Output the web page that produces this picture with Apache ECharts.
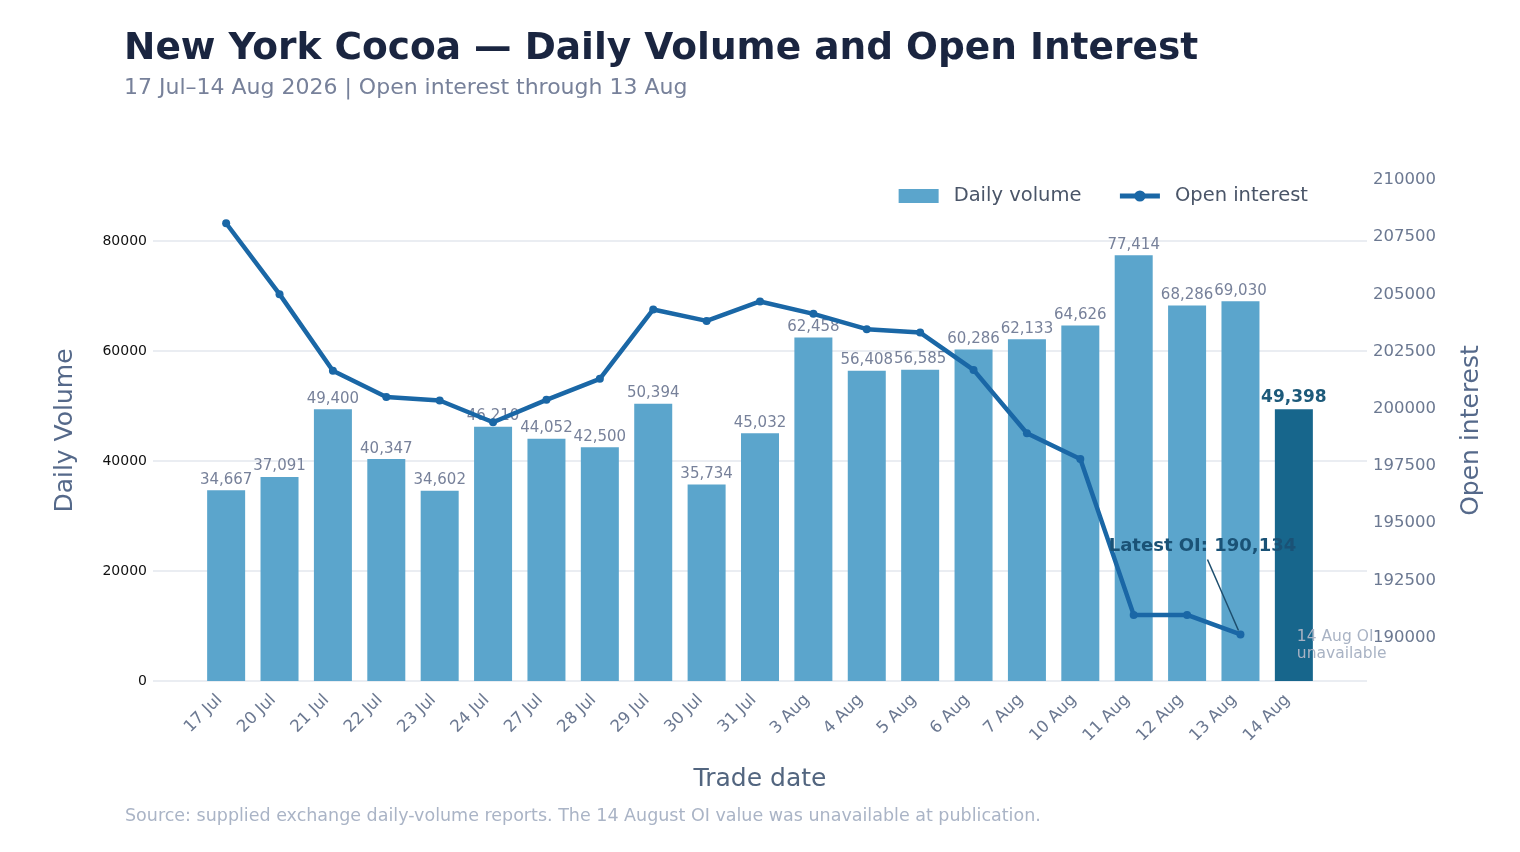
<!DOCTYPE html>
<html>
<head>
<meta charset="utf-8">
<title>New York Cocoa — Daily Volume and Open Interest</title>
<script src="https://cdn.jsdelivr.net/npm/echarts@6/dist/echarts.min.js"></script>
<style>
  html, body { margin: 0; padding: 0; background: #fff; }
  #chart { width: 1520px; height: 852px; }
</style>
</head>
<body>
<div id="chart"></div>
<script>
const tradeDates = ['17 Jul', '20 Jul', '21 Jul', '22 Jul', '23 Jul', '24 Jul', '27 Jul', '28 Jul', '29 Jul', '30 Jul', '31 Jul',
  '3 Aug', '4 Aug', '5 Aug', '6 Aug', '7 Aug', '10 Aug', '11 Aug', '12 Aug', '13 Aug', '14 Aug'];
const dailyVolume = [34667, 37091, 49400, 40347, 34602, 46210, 44052, 42500, 50394, 35734, 45032,
  62458, 56408, 56585, 60286, 62133, 64626, 77414, 68286, 69030, 49398];
// open interest, 14 Aug not published
const openInterest = [208110, 205010, 201660, 200510, 200360, 199410, 200390, 201310, 204340, 203840, 204690,
  204150, 203480, 203330, 201700, 198930, 197800, 190990, 190990, 190134, null];
const volumeTicks = [0, 20000, 40000, 60000, 80000];
const oiTicks = [190000, 192500, 195000, 197500, 200000, 202500, 205000, 207500, 210000];

const FONT = 'DejaVu Sans';
const lastIdx = tradeDates.length - 1;
const latestOiIdx = lastIdx - 1;

const chart = echarts.init(document.getElementById('chart'));

const barData = dailyVolume.map((v, i) => {
  const item = { value: [i, v] };
  if (i === lastIdx) {
    item.itemStyle = { color: '#17668c' };
    item.label = { color: '#1d5a7a', fontWeight: 'bold', fontSize: 17 };
  }
  return item;
});
const lineData = openInterest.map((v, i) => [i, v]).filter(d => d[1] !== null);

const option = {
  animation: false,
  textStyle: { fontFamily: FONT },
  title: {
    text: 'New York Cocoa — Daily Volume and Open Interest',
    subtext: '17 Jul–14 Aug 2026 | Open interest through 13 Aug',
    left: 119,
    top: 25,
    itemGap: 9,
    textStyle: { fontFamily: FONT, fontSize: 37.5, fontWeight: 'bold', color: '#1a2540' },
    subtextStyle: { fontFamily: FONT, fontSize: 22, color: '#77819a' }
  },
  legend: {
    top: 181,
    right: 207,
    itemWidth: 40,
    itemHeight: 14,
    itemGap: 36,
    lineStyle: { width: 5 },
    textStyle: { fontFamily: FONT, fontSize: 19.5, color: '#4a5568', padding: [0, 0, 0, 10] },
    data: [{ name: 'Daily volume', icon: 'rect' }, { name: 'Open interest' }]
  },
  grid: { left: 153, right: 153, top: 180, bottom: 171 },
  xAxis: {
    type: 'value',
    min: -1.37,
    max: lastIdx + 1.37,
    name: 'Trade date',
    nameLocation: 'middle',
    nameGap: 86,
    nameTextStyle: { fontFamily: FONT, fontSize: 25, color: '#52657f' },
    axisLine: { show: false },
    axisTick: { show: false },
    splitLine: { show: false },
    axisLabel: {
      customValues: tradeDates.map((d, i) => i),
      formatter: v => tradeDates[Math.round(v)],
      rotate: 45,
      margin: 10,
      padding: [0, 9, 0, 0],
      fontFamily: FONT,
      fontSize: 16.5,
      color: '#6b7891'
    }
  },
  yAxis: [
    {
      type: 'value',
      min: 0,
      max: 91100,
      interval: 20000,
      name: 'Daily Volume',
      nameLocation: 'middle',
      nameRotate: 90,
      nameGap: 75,
      nameTextStyle: { fontFamily: FONT, fontSize: 25, color: '#55698a' },
      axisLine: { show: false },
      axisTick: { show: false },
      axisLabel: { showMaxLabel: false, margin: 6, fontFamily: FONT, fontSize: 14, color: '#111', formatter: v => String(v) },
      splitLine: { showMaxLine: false, lineStyle: { color: '#e3e7ee', width: 1.5 } }
    },
    {
      type: 'value',
      position: 'right',
      min: 188100,
      max: 210000,
      name: 'Open interest',
      nameLocation: 'middle',
      nameRotate: 90,
      nameGap: 92,
      nameTextStyle: { fontFamily: FONT, fontSize: 25, color: '#55698a' },
      axisLine: { show: false },
      axisTick: { show: false },
      splitLine: { show: false },
      axisLabel: { customValues: oiTicks, margin: 6, fontFamily: FONT, fontSize: 16.5, color: '#6b7891', formatter: v => String(v) }
    }
  ],
  series: [
    {
      name: 'Daily volume',
      type: 'bar',
      yAxisIndex: 0,
      barWidth: 38,
      itemStyle: { color: '#5ba5cc' },
      label: {
        show: true,
        position: 'top',
        distance: 3,
        fontFamily: FONT,
        fontSize: 15,
        color: '#77819a',
        formatter: p => p.value[1].toLocaleString('en-US')
      },
      data: barData
    },
    {
      name: 'Open interest',
      type: 'line',
      yAxisIndex: 1,
      z: 5,
      symbol: 'circle',
      symbolSize: 8,
      lineStyle: { color: '#1a67a6', width: 4.5 },
      itemStyle: { color: '#1a67a6' },
      data: lineData
    }
  ]
};

chart.setOption(option);

// annotations placed from data coordinates
const latestPt = chart.convertToPixel({ xAxisIndex: 0, yAxisIndex: 1 }, [latestOiIdx, openInterest[latestOiIdx]]);
const missingPt = chart.convertToPixel({ xAxisIndex: 0, yAxisIndex: 1 }, [lastIdx, oiTicks[0]]);

chart.setOption({
  graphic: [
    {
      type: 'text',
      left: 125,
      top: 807,
      style: {
        text: 'Source: supplied exchange daily-volume reports. The 14 August OI value was unavailable at publication.',
        fontFamily: FONT, fontSize: 17.5, fill: '#aab4c6'
      }
    },
    {
      type: 'line',
      z: 10,
      shape: { x1: latestPt[0] - 33, y1: latestPt[1] - 75, x2: latestPt[0] - 2, y2: latestPt[1] - 4 },
      style: { stroke: '#1d4e6e', lineWidth: 1.5 }
    },
    {
      type: 'text',
      z: 10,
      x: latestPt[0] - 38,
      y: latestPt[1] - 88,
      style: {
        text: 'Latest OI: ' + openInterest[latestOiIdx].toLocaleString('en-US'),
        fontFamily: FONT, fontSize: 18, fontWeight: 'bold', fill: '#1a5276',
        align: 'center', verticalAlign: 'middle'
      }
    },
    {
      type: 'text',
      z: 10,
      x: missingPt[0] + 3,
      y: missingPt[1] - 9,
      style: {
        text: '14 Aug OI\nunavailable',
        fontFamily: FONT, fontSize: 15.5, lineHeight: 17, fill: '#a9b3c4',
        align: 'left', verticalAlign: 'top'
      }
    }
  ]
});

window.addEventListener('resize', () => chart.resize());
</script>
</body>
</html>
